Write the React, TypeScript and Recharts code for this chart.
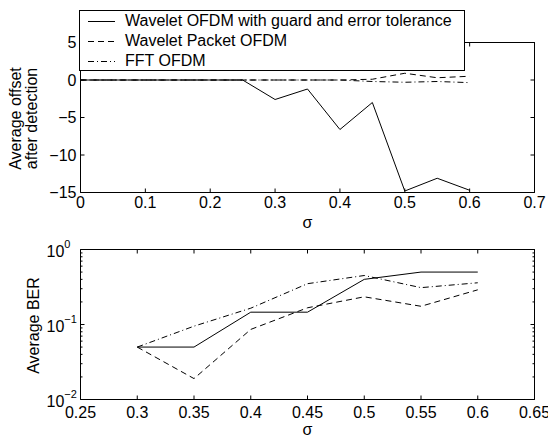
import { LineChart, Line, XAxis, YAxis, Legend, ReferenceLine } from "recharts";

// top panel: average offset after detection
const sigmaOffset = [0, 0.05, 0.1, 0.15, 0.2, 0.25, 0.3, 0.35, 0.4, 0.45, 0.5, 0.55, 0.6];
const offsetWavelet = [0, 0, 0, 0, 0, 0, -2.6, -1.2, -6.6, -3.0, -14.8, -13.1, -14.7];
const offsetPacket = [0, 0, 0, 0, 0, 0, 0, 0, 0, 0.1, 0.9, 0.3, 0.5];
const offsetFFT = [0, 0, 0, 0, 0, 0, 0, 0, 0, -0.2, -0.3, -0.2, -0.35];

// bottom panel: average BER (log)
const sigmaBer = [0.3, 0.35, 0.4, 0.45, 0.5, 0.55, 0.6];
const berWavelet = [0.05, 0.05, 0.146, 0.146, 0.4, 0.5, 0.5];
const berPacket = [0.05, 0.019, 0.086, 0.167, 0.234, 0.175, 0.29];
const berFFT = [0.05, 0.095, 0.165, 0.35, 0.45, 0.31, 0.36];

const offsetDomainX = [0, 0.7];
const offsetDomainY = [-15, 5];
const offsetTicksX = [0, 0.1, 0.2, 0.3, 0.4, 0.5, 0.6, 0.7];
const offsetTicksY = [-15, -10, -5, 0, 5];
const berDomainX = [0.25, 0.65];
const berDomainY = [0.01, 1];
const berTicksX = [0.25, 0.3, 0.35, 0.4, 0.45, 0.5, 0.55, 0.6, 0.65];
const berTicksY = [0.01, 0.1, 1];
const berTickExponents = ["−2", "−1", "0"];
const berMinorTicks = [
  0.02, 0.03, 0.04, 0.05, 0.06, 0.07, 0.08, 0.09,
  0.2, 0.3, 0.4, 0.5, 0.6, 0.7, 0.8, 0.9,
];
const berAllTicks = [...berTicksY, ...berMinorTicks];

const seriesNames = [
  "Wavelet OFDM with guard and error tolerance",
  "Wavelet Packet OFDM",
  "FFT OFDM",
];
const dashes = [undefined, "6 4", "6 3 1 3"];

const offsetData = sigmaOffset.map((s, i) => ({
  sigma: s,
  wavelet: offsetWavelet[i],
  packet: offsetPacket[i],
  fft: offsetFFT[i],
}));

const berData = sigmaBer.map((s, i) => ({
  sigma: s,
  wavelet: berWavelet[i],
  packet: berPacket[i],
  fft: berFFT[i],
}));

const FONT = "'Liberation Sans', Arial, Helvetica, sans-serif";
const tickStyle = { fill: "#000", fontSize: 16 };
const PLOT_W = 454;
const PLOT_H = 150;
const TICK = 4;

const minus = (v: number) => String(v).replace("-", "−");

const LegendBox = () => (
  <div
    style={{
      boxSizing: "border-box",
      width: 386,
      height: 61,
      border: "1px solid #000",
      background: "#fff",
      fontFamily: FONT,
      fontSize: 16,
      color: "#000",
    }}
  >
    {seriesNames.map((name, i) => (
      <div key={name} style={{ display: "flex", alignItems: "center", height: 20, lineHeight: "20px", whiteSpace: "nowrap" }}>
        <svg width={45} height={20} style={{ display: "block" }}>
          <line x1={8} x2={35} y1={10.5} y2={10.5} stroke="#000" strokeWidth={1} strokeDasharray={dashes[i]} />
        </svg>
        <span>{name}</span>
      </div>
    ))}
  </div>
);

const OffsetLabel = (props: any) => {
  const { viewBox } = props;
  const cy = viewBox.y + viewBox.height / 2 + 1;
  const cx = 21;
  return (
    <text transform={`rotate(-90, ${cx}, ${cy})`} x={cx} y={cy} textAnchor="middle" fill="#000" fontSize={16}>
      <tspan x={cx} dy={0}>Average offset</tspan>
      <tspan x={cx} dy={16}>after detection</tspan>
    </text>
  );
};

const BerLabel = (props: any) => {
  const { viewBox } = props;
  const cy = viewBox.y + viewBox.height / 2 + 1;
  const cx = 39;
  return (
    <text transform={`rotate(-90, ${cx}, ${cy})`} x={cx} y={cy} textAnchor="middle" fill="#000" fontSize={16}>
      Average BER
    </text>
  );
};

// left log axis: inward major/minor ticks + 10^n labels
const BerLeftTick = (props: any) => {
  const { x, y, payload } = props;
  const axisX = x + 4;
  const major = berTicksY.indexOf(payload.value);
  return (
    <g>
      <line x1={axisX} x2={axisX + (major >= 0 ? TICK : 2)} y1={y} y2={y} stroke="#000" strokeWidth={1} />
      {major >= 0 && (
        <text x={axisX - 34} y={y + 7} fill="#000" fontSize={16}>
          10
          <tspan dy={-9} fontSize={11}>{berTickExponents[major]}</tspan>
        </text>
      )}
    </g>
  );
};

// box frame (top / right edges) with inward ticks, in data units of each panel
const offsetTickDx = ((offsetDomainX[1] - offsetDomainX[0]) * TICK) / PLOT_W;
const offsetTickDy = ((offsetDomainY[1] - offsetDomainY[0]) * TICK) / PLOT_H;
const berTickDx = ((berDomainX[1] - berDomainX[0]) * TICK) / PLOT_W;
const berTickFactor = Math.pow(10, (-2 * TICK) / PLOT_H);
const berMinorDx = ((berDomainX[1] - berDomainX[0]) * 2) / PLOT_W;

const App = () => {
  const ref = { xAxisId: "b", yAxisId: "l", stroke: "#000", strokeWidth: 1, ifOverflow: "visible" as const };
  return (
    <div style={{ position: "absolute", left: 0, top: 0, width: 548, height: 437, background: "#fff", fontFamily: FONT }}>
      <LineChart width={548} height={233} data={offsetData} margin={{ top: 42.5, right: 12.5, bottom: 0, left: 0 }}>
        <XAxis
          xAxisId="b"
          dataKey="sigma"
          type="number"
          domain={offsetDomainX}
          ticks={offsetTicksX}
          interval={0}
          height={40.5}
          tickSize={-TICK}
          tickMargin={8}
          stroke="#000"
          tick={tickStyle}
          label={{ value: "σ", position: "insideBottom", offset: 5, fill: "#000", fontSize: 16 }}
        />
        <YAxis
          yAxisId="l"
          type="number"
          domain={offsetDomainY}
          ticks={offsetTicksY}
          interval={0}
          width={80.5}
          tickSize={-TICK}
          tickMargin={8}
          stroke="#000"
          tick={tickStyle}
          tickFormatter={minus}
          label={OffsetLabel}
        />
        <YAxis yAxisId="r" orientation="right" type="number" domain={offsetDomainY} width={1} tick={false} tickLine={false} stroke="#000" />
        <ReferenceLine {...ref} y={offsetDomainY[1]} />
        <ReferenceLine {...ref} x={offsetDomainX[1]} />
        {offsetTicksX.map((t) => (
          <ReferenceLine key={`tx${t}`} {...ref} segment={[{ x: t, y: offsetDomainY[1] }, { x: t, y: offsetDomainY[1] - offsetTickDy }]} />
        ))}
        {offsetTicksY.map((t) => (
          <ReferenceLine key={`ry${t}`} {...ref} segment={[{ x: offsetDomainX[1], y: t }, { x: offsetDomainX[1] - offsetTickDx, y: t }]} />
        ))}
        <Line xAxisId="b" yAxisId="l" dataKey="wavelet" stroke="#000" strokeWidth={1} dot={false} isAnimationActive={false} />
        <Line xAxisId="b" yAxisId="l" dataKey="packet" stroke="#000" strokeWidth={1} strokeDasharray={dashes[1]} dot={false} isAnimationActive={false} />
        <Line xAxisId="b" yAxisId="l" dataKey="fft" stroke="#000" strokeWidth={1} strokeDasharray={dashes[2]} dot={false} isAnimationActive={false} />
        <Legend
          layout="vertical"
          verticalAlign="middle"
          align="center"
          wrapperStyle={{ top: 10, left: 79, width: 386, height: 61 }}
          content={LegendBox}
        />
      </LineChart>

      <LineChart width={548} height={204} data={berData} margin={{ top: 16.5, right: 12.5, bottom: 0, left: 0 }}>
        <XAxis
          xAxisId="b"
          dataKey="sigma"
          type="number"
          domain={berDomainX}
          ticks={berTicksX}
          interval={0}
          height={37.5}
          tickSize={-TICK}
          tickMargin={11}
          stroke="#000"
          tick={tickStyle}
          label={{ value: "σ", position: "insideBottom", offset: 2, fill: "#000", fontSize: 16 }}
        />
        <YAxis
          yAxisId="l"
          type="number"
          scale="log"
          domain={berDomainY}
          allowDataOverflow
          ticks={berAllTicks}
          interval={0}
          width={80.5}
          tickLine={false}
          tickSize={0}
          tickMargin={4}
          stroke="#000"
          tick={BerLeftTick}
          label={BerLabel}
        />
        <YAxis yAxisId="r" orientation="right" type="number" domain={[0, 1]} width={1} tick={false} tickLine={false} stroke="#000" />
        <ReferenceLine {...ref} y={berDomainY[1]} />
        <ReferenceLine {...ref} x={berDomainX[1]} />
        {berTicksX.map((t) => (
          <ReferenceLine key={`tx${t}`} {...ref} segment={[{ x: t, y: berDomainY[1] }, { x: t, y: berDomainY[1] * berTickFactor }]} />
        ))}
        {berAllTicks.map((t) => (
          <ReferenceLine
            key={`ry${t}`}
            {...ref}
            segment={[{ x: berDomainX[1], y: t }, { x: berDomainX[1] - (berTicksY.includes(t) ? berTickDx : berMinorDx), y: t }]}
          />
        ))}
        <Line xAxisId="b" yAxisId="l" dataKey="wavelet" stroke="#000" strokeWidth={1} dot={false} isAnimationActive={false} />
        <Line xAxisId="b" yAxisId="l" dataKey="packet" stroke="#000" strokeWidth={1} strokeDasharray={dashes[1]} dot={false} isAnimationActive={false} />
        <Line xAxisId="b" yAxisId="l" dataKey="fft" stroke="#000" strokeWidth={1} strokeDasharray={dashes[2]} dot={false} isAnimationActive={false} />
      </LineChart>
    </div>
  );
};

export default App;
